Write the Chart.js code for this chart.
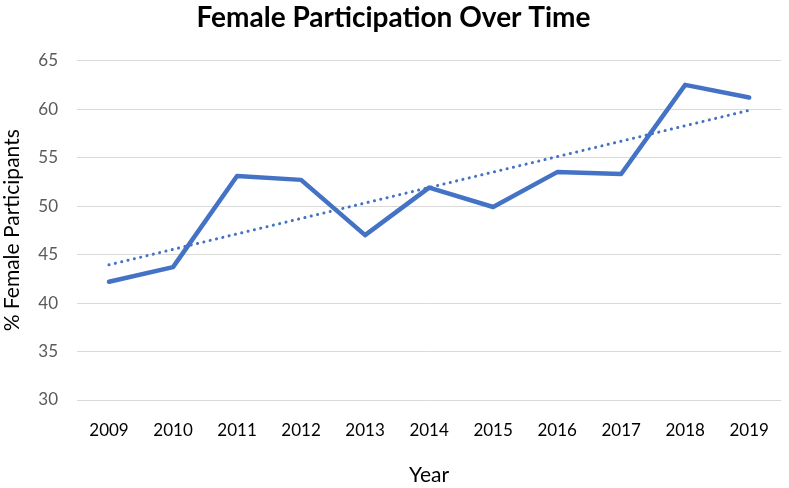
<!DOCTYPE html>
<html>
<head>
<meta charset="utf-8">
<script src="https://cdn.jsdelivr.net/npm/chart.js@4.4.1/dist/chart.umd.min.js"></script>
<style>
  html, body { margin: 0; padding: 0; background: #fff; }
  #wrap { width: 789px; height: 488px; }
</style>
</head>
<body>
<div id="wrap"><canvas id="chart" width="789" height="488"></canvas></div>
<script>
// data
const years = ['2009', '2010', '2011', '2012', '2013', '2014', '2015', '2016', '2017', '2018', '2019'];
const femalePct = [42.2, 43.7, 53.1, 52.7, 47.0, 51.9, 49.9, 53.5, 53.3, 62.5, 61.2];
const yTicks = [30, 35, 40, 45, 50, 55, 60, 65];

// linear trendline (least squares over the same points, like the original)
function linearTrend(vals) {
    const n = vals.length;
    const mx = (n - 1) / 2;
    const my = vals.reduce((a, b) => a + b, 0) / n;
    let sxy = 0, sxx = 0;
    vals.forEach((v, i) => { sxy += (i - mx) * (v - my); sxx += (i - mx) * (i - mx); });
    const slope = sxy / sxx;
    return vals.map((v, i) => my + slope * (i - mx));
}
const trend = linearTrend(femalePct);

const FONT = 'Lato, "Open Sans", sans-serif';

new Chart(document.getElementById('chart'), {
    type: 'line',
    data: {
        labels: years,
        datasets: [
            {
                label: '% Female',
                data: femalePct,
                borderColor: '#4472C4',
                borderWidth: 4.5,
                pointRadius: 0,
                borderJoinStyle: 'round',
                borderCapStyle: 'round',
                tension: 0
            },
            {
                label: 'Linear',
                data: trend,
                borderColor: '#4472C4',
                borderWidth: 3,
                borderDash: [0.1, 6.4],
                borderCapStyle: 'round',
                pointRadius: 0,
                tension: 0
            }
        ]
    },
    options: {
        responsive: false,
        animation: false,
        layout: { padding: { left: 0, right: 2, top: 0, bottom: 0 } },
        plugins: {
            legend: { display: false },
            tooltip: { enabled: false },
            title: {
                display: true,
                text: 'Female Participation Over Time',
                color: '#000',
                font: { family: FONT, size: 28, weight: 'bold' },
                padding: { top: 1, bottom: 26 }
            }
        },
        scales: {
            x: {
                offset: true,
                grid: { display: false, drawTicks: false },
                border: { display: false },
                ticks: { color: '#000', font: { family: FONT, size: 17 }, padding: 20, maxRotation: 0 },
                title: { display: true, text: 'Year', color: '#000', font: { family: FONT, size: 21 }, padding: 0 },
                afterFit: s => { s.height = 88; }
            },
            y: {
                min: 30,
                max: 65,
                afterBuildTicks: s => { s.ticks = yTicks.map(v => ({ value: v })); },
                grid: { color: '#D9D9D9', lineWidth: 1, drawTicks: false },
                border: { display: false },
                ticks: { color: '#595959', font: { family: FONT, size: 17 }, padding: 19 },
                title: { display: true, text: '% Female Participants', color: '#000', font: { family: FONT, size: 21 }, padding: { top: 0, bottom: 0 } },
                afterFit: s => { s.width = 77; }
            }
        }
    }
});
</script>
</body>
</html>
